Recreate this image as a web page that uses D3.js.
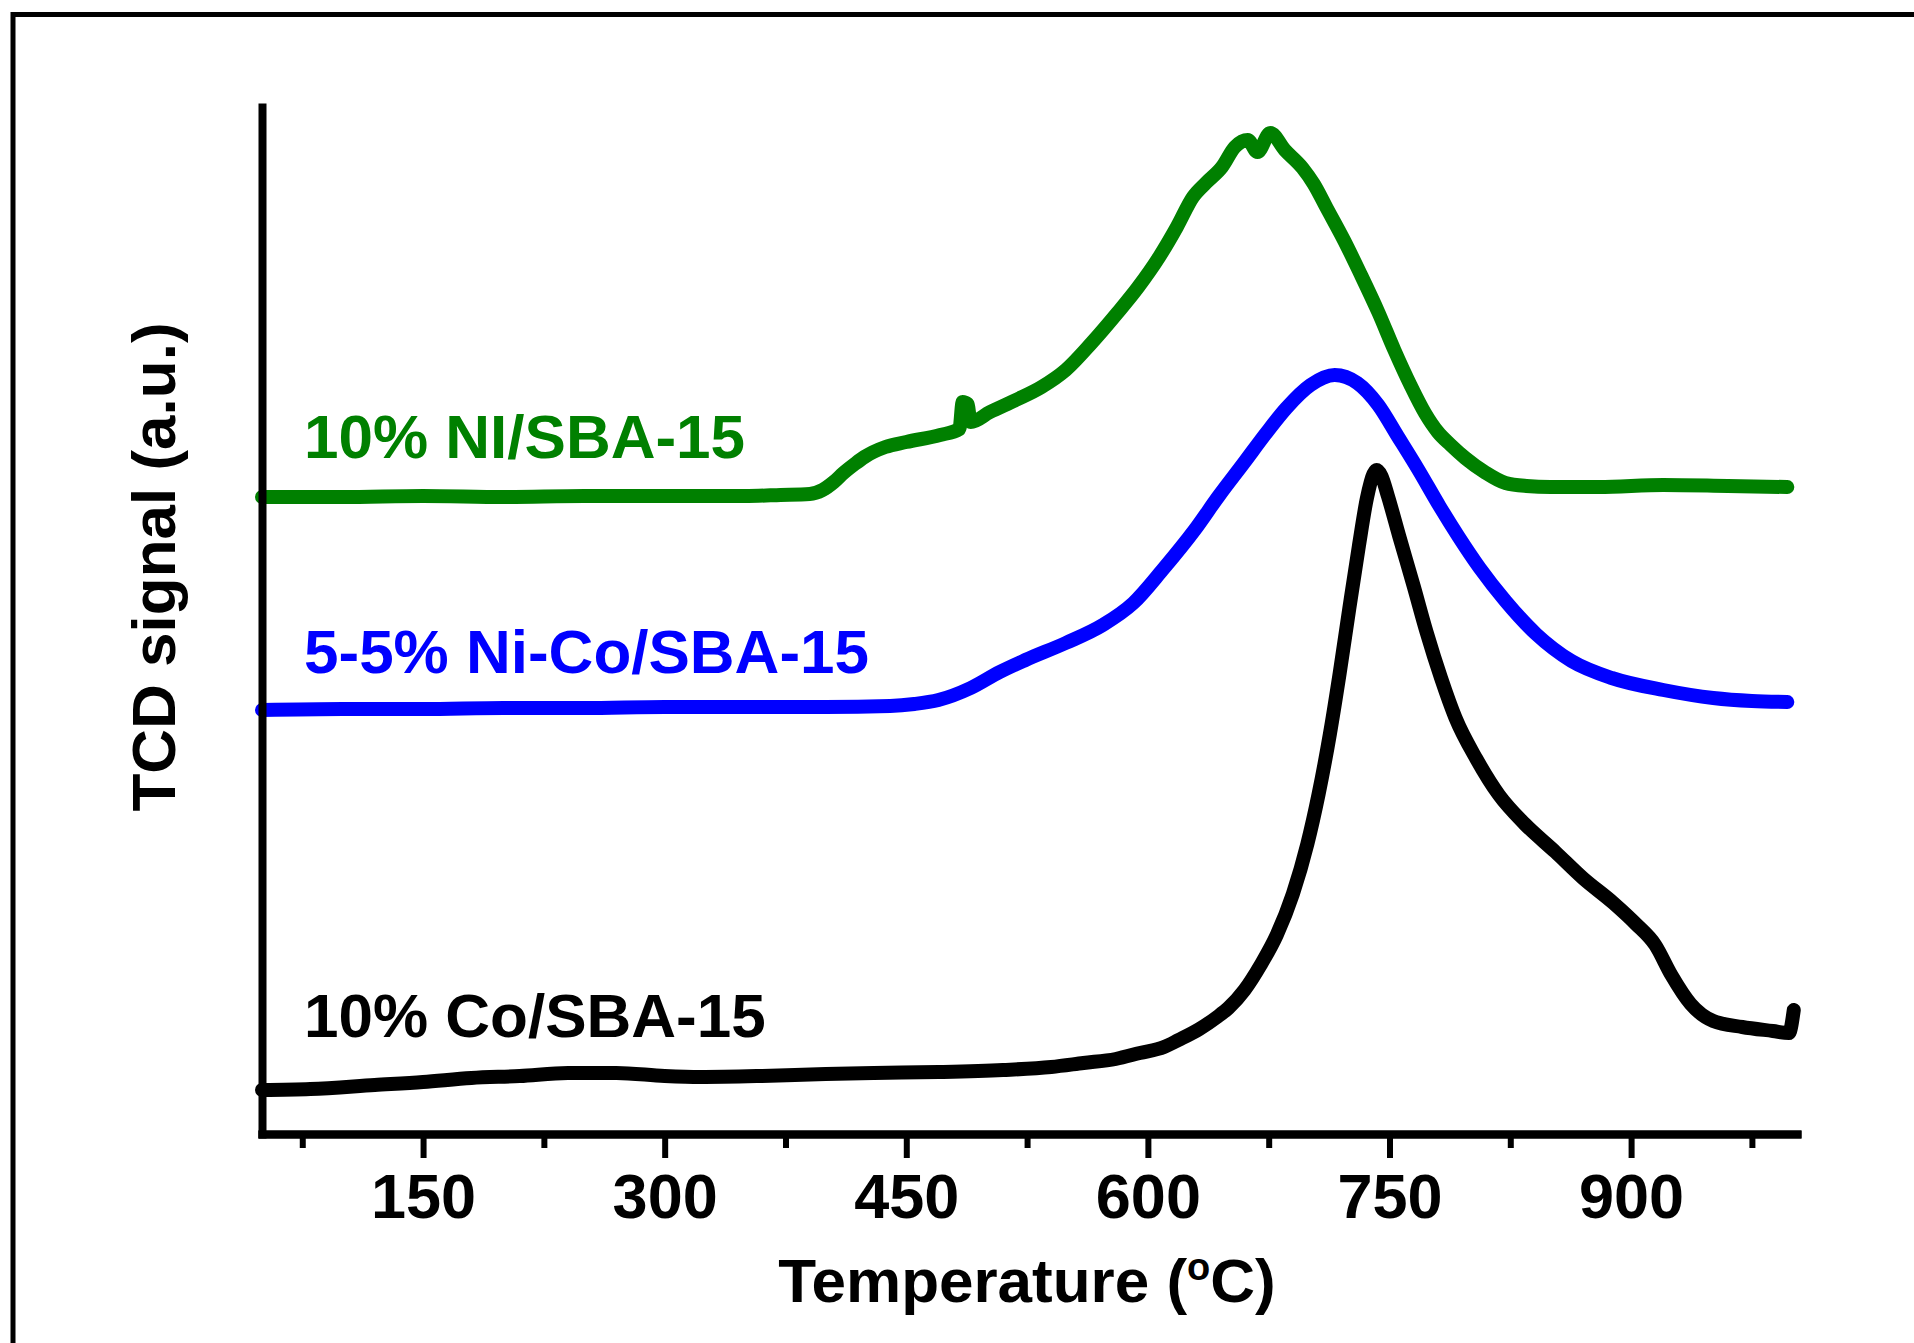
<!DOCTYPE html>
<html>
<head>
<meta charset="utf-8">
<script src="https://cdn.jsdelivr.net/npm/d3@7"></script>
<style>
    body { margin: 0; background: #fff; }
    text { font-family: "Liberation Sans", Arial, sans-serif; font-weight: bold; }
</style>
</head>
<body>
<div id="chart"></div>
<script>
// 10% Ni/SBA-15
const niTemp = [50, 100, 150, 200, 250, 300, 350, 372, 390, 398, 405, 411, 418, 424, 437, 450, 471, 483, 485, 488, 490, 502, 518, 534, 549, 565, 581, 594, 607, 618, 628, 636, 646, 654, 662, 668, 676, 685, 696, 703, 711, 722, 732, 743, 753, 763, 772, 780, 788, 797, 809, 822, 835, 850, 880, 920, 960, 997];
const niSignal = [63.7, 63.7, 63.8, 63.7, 63.8, 63.8, 63.8, 63.9, 64.0, 64.4, 65.2, 66.1, 67.0, 67.7, 68.7, 69.2, 69.9, 70.5, 73.2, 73.0, 71.2, 72.2, 73.4, 74.7, 76.4, 79.1, 82.1, 84.7, 87.7, 90.7, 93.7, 95.1, 96.7, 98.7, 99.4, 98.2, 100.1, 98.4, 96.6, 95.0, 92.6, 89.3, 86.0, 82.2, 78.4, 74.9, 72.1, 70.2, 68.9, 67.6, 66.2, 65.1, 64.8, 64.7, 64.7, 64.9, 64.8, 64.7];

// 5-5% Ni-Co/SBA-15
const nicoTemp = [50, 100, 150, 200, 250, 300, 350, 400, 440, 455, 470, 490, 508, 524, 549, 572, 591, 609, 629, 644, 660, 673, 686, 701, 716, 730, 743, 755, 768, 781, 793, 806, 822, 841, 863, 888, 920, 951, 975, 997];
const nicoSignal = [42.4, 42.5, 42.5, 42.6, 42.6, 42.7, 42.7, 42.7, 42.8, 43.0, 43.4, 44.6, 46.2, 47.4, 49.1, 50.9, 53.1, 56.4, 60.4, 63.8, 67.2, 70.0, 72.6, 74.9, 75.9, 75.1, 72.9, 69.8, 66.4, 62.8, 59.7, 56.6, 53.3, 50.0, 47.3, 45.6, 44.4, 43.6, 43.3, 43.2];

// 10% Co/SBA-15
const coTemp = [50, 80, 120, 150, 180, 210, 240, 270, 300, 322, 360, 400, 430, 470, 510, 540, 560, 580, 595, 610, 619, 632, 643, 650, 660, 670, 680, 690, 699, 706, 713, 719, 725, 731, 736, 740, 742, 745, 749, 756, 765, 773, 782, 791, 804, 818, 834, 853, 870, 889, 903, 915, 925, 937, 951, 969, 988, 998, 1001];
const coSignal = [4.4, 4.5, 4.9, 5.2, 5.6, 5.8, 6.1, 6.1, 5.8, 5.7, 5.8, 6.0, 6.1, 6.2, 6.4, 6.7, 7.1, 7.5, 8.1, 8.7, 9.4, 10.5, 11.7, 12.6, 14.4, 16.9, 19.9, 24.0, 29.0, 34.0, 40.0, 46.0, 52.5, 58.8, 63.6, 66.0, 66.4, 65.8, 63.8, 59.8, 54.8, 50.2, 45.6, 41.6, 37.5, 33.9, 31.0, 28.2, 25.6, 23.1, 21.0, 18.9, 15.9, 13.0, 11.3, 10.7, 10.3, 10.1, 12.4];

const majorTicks = [150, 300, 450, 600, 750, 900];
const minorTicks = [75, 225, 375, 525, 675, 825, 975];

const seriesNames = ["10% NI/SBA-15", "5-5% Ni-Co/SBA-15", "10% Co/SBA-15"];
const seriesColors = ["#008000", "#0000ff", "#000000"];

const w = 1914;
const h = 1343;

const svg = d3.select("#chart")
    .append("svg")
    .attr("width", w)
    .attr("height", h);

svg.append("rect")
    .attr("width", w)
    .attr("height", h)
    .attr("fill", "#fff");

// outer frame, cut by the right and bottom edges
svg.append("rect")
    .attr("x", 13)
    .attr("y", 14.5)
    .attr("width", 2000)
    .attr("height", 2000)
    .attr("fill", "none")
    .attr("stroke", "#000")
    .attr("stroke-width", 5);

const xScale = d3.scaleLinear()
    .domain([50, 1003])
    .range([262, 1797]);

const yScale = d3.scaleLinear()
    .domain([0, 102.7])
    .range([1134, 107]);

const line = d3.line()
    .x(d => xScale(d[0]))
    .y(d => yScale(d[1]))
    .curve(d3.curveMonotoneX);

const series = [
    d3.zip(niTemp, niSignal),
    d3.zip(nicoTemp, nicoSignal),
    d3.zip(coTemp, coSignal)
];

svg.selectAll("path.curve")
    .data(series)
    .enter()
    .append("path")
    .attr("class", "curve")
    .attr("d", line)
    .attr("fill", "none")
    .attr("stroke", (d, i) => seriesColors[i])
    .attr("stroke-width", 14)
    .attr("stroke-linejoin", "round")
    .attr("stroke-linecap", "round");

// axes
const xMinor = d3.axisBottom(xScale)
    .tickValues(minorTicks)
    .tickSize(14)
    .tickSizeOuter(0)
    .tickFormat("");

const xMajor = d3.axisBottom(xScale)
    .tickValues(majorTicks)
    .tickSize(24)
    .tickSizeOuter(0)
    .tickFormat(d3.format("d"));

const gMinor = svg.append("g")
    .attr("transform", "translate(0,1134)")
    .call(xMinor);

const gMajor = svg.append("g")
    .attr("id", "x-axis")
    .attr("transform", "translate(0,1134)")
    .call(xMajor);

[gMinor, gMajor].forEach(g => {
    g.select(".domain").attr("stroke", "#000").attr("stroke-width", 8).attr("stroke-linecap", "square");
    g.selectAll(".tick line").attr("stroke", "#000").attr("stroke-width", 6);
});

gMajor.selectAll(".tick text")
    .attr("y", 84)
    .attr("dy", 0)
    .attr("fill", "#000")
    .style("font-size", "63px")
    .style("font-family", "'Liberation Sans', Arial, sans-serif")
    .style("font-weight", "bold");

const yAxis = d3.axisLeft(yScale)
    .tickValues([])
    .tickSizeOuter(0);

svg.append("g")
    .attr("id", "y-axis")
    .attr("transform", "translate(262,0)")
    .call(yAxis)
    .select(".domain")
    .attr("stroke", "#000")
    .attr("stroke-width", 8)
    .attr("stroke-linecap", "square");

// axis titles
const xTitle = svg.append("text")
    .attr("x", 1027)
    .attr("y", 1302)
    .attr("text-anchor", "middle")
    .style("font-size", "62px");
xTitle.append("tspan").text("Temperature (");
xTitle.append("tspan").attr("dy", -22).style("font-size", "38px").text("o");
xTitle.append("tspan").attr("dy", 22).text("C)");

svg.append("text")
    .attr("transform", "translate(175,567) rotate(-90)")
    .attr("text-anchor", "middle")
    .style("font-size", "62px")
    .text("TCD signal (a.u.)");

// series labels
const labelY = [458, 673, 1037];
svg.selectAll("text.label")
    .data(seriesNames)
    .enter()
    .append("text")
    .attr("class", "label")
    .attr("x", 304)
    .attr("y", (d, i) => labelY[i])
    .attr("fill", (d, i) => seriesColors[i])
    .style("font-size", "62px")
    .text(d => d);
</script>
</body>
</html>
